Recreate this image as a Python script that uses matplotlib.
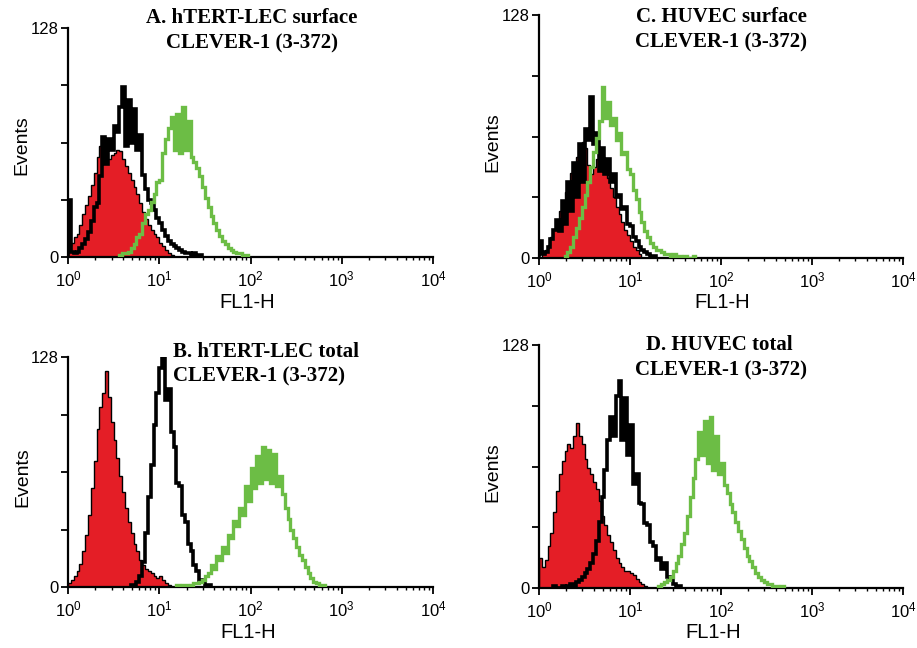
import numpy as np
import matplotlib
matplotlib.use("Agg")
import matplotlib.pyplot as plt
from matplotlib.ticker import LogLocator, NullFormatter, LogFormatterMathtext

plt.rcParams['font.family'] = ['Liberation Sans', 'DejaVu Sans']

################## Data #################
# FL1-H channels, 32 per decade starting at 10^0. Each series = start channel + counts
BINS_PER_DECADE = 32

# A. hTERT-LEC surface
A_red_start = 0
A_red = [6, 8, 11, 13, 18, 24, 29, 34, 40, 47, 56, 62, 66, 58, 55, 57, 58, 60, 59, 55,
         51, 47, 43, 39, 35, 30, 25, 21, 18, 15, 13, 11, 8, 6, 4, 2, 1]
A_black_start = 0
A_black = [32, 3, 2, 3, 5, 7, 10, 14, 20, 28, 30, 45, 67, 52, 66, 60, 73, 70, 84, 95,
           62, 88, 64, 83, 60, 68, 46, 38, 32, 30, 26, 22, 19, 15, 12, 9, 7, 6, 5, 4,
           3, 2, 2, 1, 2, 1, 1]
A_green_start = 18
A_green = [1, 2, 2, 3, 5, 7, 11, 13, 19, 24, 26, 31, 35, 42, 43, 58, 66, 72, 78, 60,
           80, 58, 84, 60, 76, 56, 53, 50, 45, 39, 33, 28, 23, 19, 15, 12, 9, 7, 5, 4,
           3, 2, 2, 1, 1]

# B. hTERT-LEC total
B_red_start = 0
B_red = [2, 4, 6, 9, 13, 20, 29, 40, 55, 70, 88, 100, 108, 120, 106, 92, 82, 72, 62, 53,
         44, 36, 30, 24, 20, 15, 12, 10, 9, 8, 6, 5, 6, 4, 2, 1]
B_black_start = 22
B_black = [1, 1, 3, 6, 14, 30, 50, 68, 90, 108, 122, 128, 104, 110, 86, 78, 58, 56, 40, 36,
           24, 20, 12, 9, 4, 3, 1, 1]
B_green_start = 38
B_green = [1, 0, 1, 1, 0, 1, 2, 2, 3, 4, 6, 8, 12, 10, 17, 15, 22, 19, 29, 27,
           37, 34, 44, 40, 56, 48, 66, 55, 73, 58, 78, 60, 76, 58, 74, 56, 62, 52, 44, 38,
           32, 27, 22, 18, 15, 11, 8, 5, 3, 2, 1, 1]

# C. HUVEC surface
C_red_start = 1
C_red = [2, 4, 7, 11, 15, 20, 25, 30, 35, 40, 45, 49, 53, 57, 61, 58, 49, 44, 48, 52,
         54, 50, 46, 42, 37, 32, 27, 23, 19, 15, 12, 9, 6, 4, 2]
C_black_start = 0
C_black = [9, 2, 3, 6, 10, 15, 20, 14, 30, 18, 40, 25, 50, 32, 60, 40, 68, 62, 85, 60,
           66, 46, 58, 44, 52, 40, 44, 32, 33, 26, 27, 18, 17, 11, 9, 6, 4, 3, 2, 1, 1]
C_green_start = 9
C_green = [1, 3, 6, 11, 16, 21, 27, 33, 40, 48, 56, 63, 72, 90, 74, 82, 70, 74, 62, 66,
           55, 56, 47, 44, 36, 31, 24, 19, 14, 11, 8, 6, 4, 4, 3, 2, 2, 1, 2, 1,
           1, 0, 1, 0, 0, 1]

# D. HUVEC total
D_red_start = 0
D_red = [16, 11, 15, 22, 29, 40, 51, 60, 67, 72, 76, 74, 80, 87, 80, 76, 68, 63, 60, 56,
         52, 46, 38, 33, 28, 24, 20, 16, 13, 11, 9, 9, 8, 7, 5, 3, 2, 1]
D_black_start = 5
D_black = [1, 0, 0, 1, 0, 1, 2, 1, 3, 4, 6, 8, 10, 13, 18, 25, 35, 48, 62, 78,
           90, 80, 101, 109, 78, 100, 70, 86, 55, 60, 45, 44, 34, 33, 24, 22, 15, 16, 10, 13,
           6, 5, 2, 1, 1]
D_green_start = 42
D_green = [1, 2, 3, 4, 6, 9, 13, 17, 23, 29, 38, 48, 58, 68, 82, 70, 88, 66, 90, 62,
           80, 60, 66, 54, 50, 44, 40, 35, 30, 26, 21, 17, 14, 11, 8, 6, 4, 3, 2, 2,
           1, 1, 0, 1]

Y_TICKS = [0, 32, 64, 96, 128]
Y_TICKLABELS = ["0", "", "", "", "128"]

RED = "#E41E26"
GREEN = "#6CBD45"

W, H = 917, 648

################## Functions #################


def channelEdges(start, counts):
    """Bin edges on the FL1-H axis for a run of channels"""
    idx = np.arange(start, start + len(counts) + 1)
    return 10.0 ** (idx / BINS_PER_DECADE)


def pixAxes(fig, x0, x1, ytop, ybot):
    """Makes an axes from pixel corners of the original picture"""
    return fig.add_axes([x0 / W, 1 - ybot / H, (x1 - x0) / W, (ybot - ytop) / H])


def drawPanel(ax, red, black, green):
    """Draws the isotype (red fill), black and green histograms"""
    ax.stairs(red[1], channelEdges(red[0], red[1]), fill=True, color=RED, zorder=1)
    ax.stairs(red[1], channelEdges(red[0], red[1]), color="black", lw=1.0, zorder=1.5)
    ax.stairs(black[1], channelEdges(black[0], black[1]), color="black", lw=2.6, zorder=2)
    ax.stairs(green[1], channelEdges(green[0], green[1]), color=GREEN, lw=2.4, zorder=3)

    ax.set_xscale("log")
    ax.set_xlim(1, 1e4)
    ax.set_ylim(0, 128)
    ax.xaxis.set_major_locator(LogLocator(base=10, numticks=10))
    ax.xaxis.set_major_formatter(LogFormatterMathtext())
    ax.xaxis.set_minor_locator(LogLocator(base=10, subs=np.arange(2, 10), numticks=40))
    ax.xaxis.set_minor_formatter(NullFormatter())
    ax.set_yticks(Y_TICKS)
    ax.set_yticklabels(Y_TICKLABELS)
    ax.tick_params(axis="x", which="major", length=5, width=1.3, labelsize=12, pad=4)
    ax.tick_params(axis="x", which="minor", length=2.5, width=1.0)
    ax.tick_params(axis="y", length=5, width=1.3, labelsize=12, pad=2)
    for side in ["top", "right"]:
        ax.spines[side].set_visible(False)
    for side in ["left", "bottom"]:
        ax.spines[side].set_linewidth(1.6)
    ax.patch.set_alpha(0)


def pixText(fig, x, y, s, **kw):
    fig.text(x / W, 1 - y / H, s, ha="center", va="center", **kw)


###################### Main code ###########################
fig = plt.figure(figsize=(W / 100, H / 100), dpi=100)

axA = pixAxes(fig, 68, 433, 28, 257)
axC = pixAxes(fig, 539, 903, 15, 258)
axB = pixAxes(fig, 68, 433, 357, 587)
axD = pixAxes(fig, 539, 903, 345, 588)

drawPanel(axA, (A_red_start, A_red), (A_black_start, A_black), (A_green_start, A_green))
drawPanel(axB, (B_red_start, B_red), (B_black_start, B_black), (B_green_start, B_green))
drawPanel(axC, (C_red_start, C_red), (C_black_start, C_black), (C_green_start, C_green))
drawPanel(axD, (D_red_start, D_red), (D_black_start, D_black), (D_green_start, D_green))

titleFont = dict(fontfamily="Liberation Serif", fontweight="bold", fontsize=15)
pixText(fig, 252, 18, "A. hTERT-LEC surface", **titleFont)
pixText(fig, 252, 43, "CLEVER-1 (3-372)", **titleFont)
pixText(fig, 721, 17, "C. HUVEC surface", **titleFont)
pixText(fig, 721, 42, "CLEVER-1 (3-372)", **titleFont)
pixText(fig, 266, 352, "B. hTERT-LEC total", **titleFont)
pixText(fig, 259, 376, "CLEVER-1 (3-372)", **titleFont)
pixText(fig, 719, 345, "D. HUVEC total", **titleFont)
pixText(fig, 721, 370, "CLEVER-1 (3-372)", **titleFont)

# axis labels
for x, y in [(22, 145), (493, 142), (23, 477), (493, 472)]:
    pixText(fig, x, y, "Events", rotation=90, fontsize=14)
for x, y in [(247, 302), (722, 302), (248, 633), (713, 633)]:
    pixText(fig, x, y, "FL1-H", fontsize=14.5)

fig.savefig("out.png", dpi=100)
